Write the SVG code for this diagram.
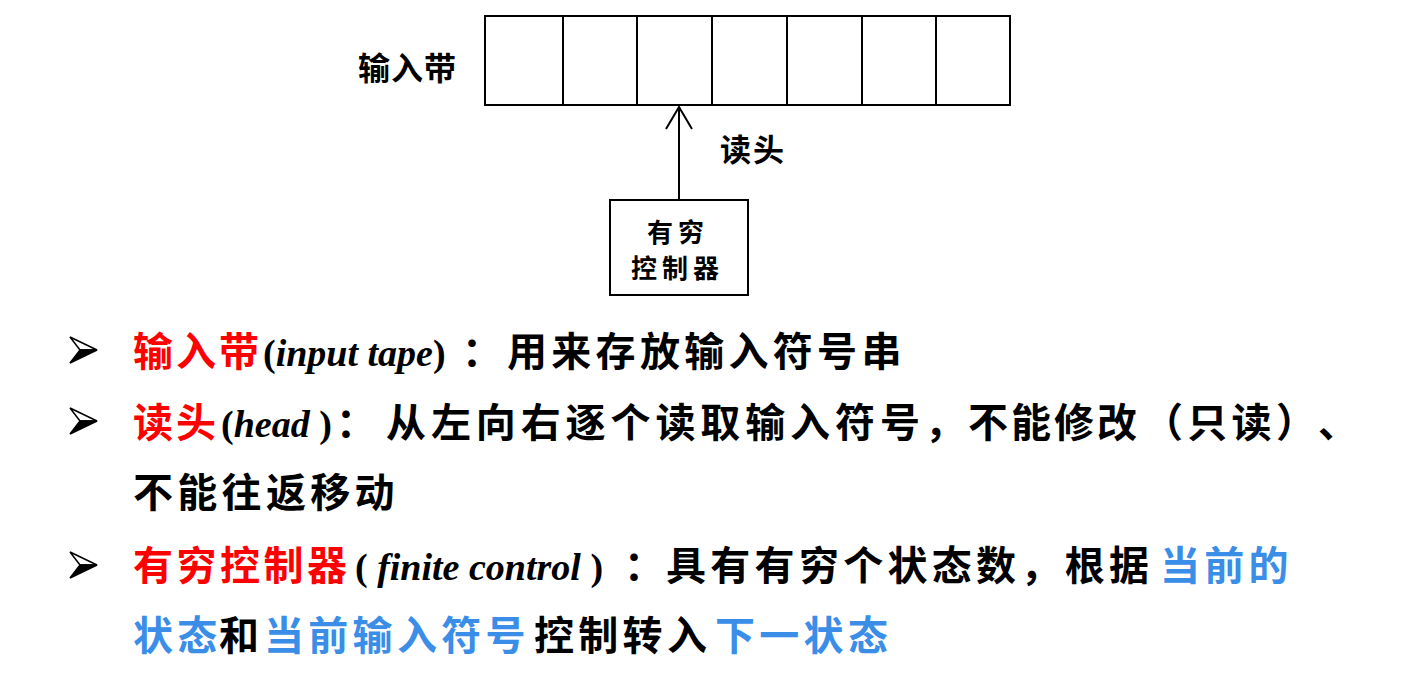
<svg xmlns="http://www.w3.org/2000/svg" width="1414" height="690" viewBox="0 0 1414 690">
<style>
.cjk{font-family:"Noto Sans CJK SC","Noto Sans",sans-serif;font-weight:700;fill:#000}
.big{font-size:40px;letter-spacing:4.3px}
.lat{font-family:"Liberation Serif",serif;font-weight:700;font-size:38px;letter-spacing:0}
.it{font-style:italic}
.red{fill:#ff0000}
.blue{fill:#3a8ee8}
.box{fill:#fff;stroke:#000;stroke-width:2}
.ln{stroke:#000;stroke-width:2;fill:none}
</style>
<defs>
<marker id="ah" viewBox="0 0 24 28" refX="23" refY="14" markerWidth="24" markerHeight="28" markerUnits="userSpaceOnUse" orient="auto">
<path d="M1,1 L23,14 L1,27" fill="none" stroke="#000" stroke-width="2"/>
</marker>
<g id="bul">
<path d="M0,-13 L27,0 L10,0 Z" fill="#fff" stroke="#000" stroke-width="1.5"/>
<path d="M0,13 L27,0 L10,0 Z" fill="#000" stroke="#000" stroke-width="1.5"/>
</g>
</defs>
<g id="tape">
<rect class="box" x="485" y="16" width="525" height="89"/>
<path class="ln" d="M563,16V105M637,16V105M712,16V105M787,16V105M862,16V105M936,16V105"/>
<text class="cjk" x="358" y="80" font-size="32" letter-spacing="1">输入带</text>
</g>
<g id="connectors">
<line class="ln" x1="679" y1="200" x2="679" y2="107" marker-end="url(#ah)"/>
<text class="cjk" x="720" y="161" font-size="31" letter-spacing="2">读头</text>
</g>
<g id="control">
<rect class="box" x="610" y="200" width="138" height="95"/>
<text class="cjk" x="647" y="242" font-size="26" letter-spacing="5">有穷</text>
<text class="cjk" x="631" y="278" font-size="26" letter-spacing="5">控制器</text>
</g>
<g id="bullets">
<use href="#bul" x="70" y="350"/>
<use href="#bul" x="70" y="421"/>
<use href="#bul" x="70" y="565"/>
</g>
<g id="text">
<text class="cjk big" y="366"><tspan class="red" x="133" letter-spacing="3">输入带</tspan><tspan class="lat" x="263">(</tspan><tspan class="lat it">input tape</tspan><tspan class="lat">)</tspan><tspan x="462">：</tspan><tspan x="507">用来存放输入符号串</tspan></text>
<text class="cjk big" y="437"><tspan class="red" x="133" letter-spacing="3">读头</tspan><tspan class="lat" x="221">(</tspan><tspan class="lat it">head </tspan><tspan class="lat">)</tspan><tspan x="336">：</tspan><tspan x="386" letter-spacing="4.9">从左向右逐个读取输入符号，</tspan><tspan x="968" letter-spacing="3">不能修改</tspan><tspan x="1143">（只读）</tspan><tspan x="1318">、</tspan></text>
<text class="cjk big" y="507"><tspan x="133">不能往返移动</tspan></text>
<text class="cjk big" y="580"><tspan class="red" x="133" letter-spacing="3.5">有穷控制器</tspan><tspan class="lat" x="355">( </tspan><tspan class="lat it">finite control </tspan><tspan class="lat">)</tspan><tspan x="624">：</tspan><tspan x="666">具有有穷个状态数，根据</tspan><tspan class="blue" x="1160">当前的</tspan></text>
<text class="cjk big" y="650"><tspan class="blue" x="133">状态</tspan><tspan x="219">和</tspan><tspan class="blue" x="264">当前输入符号</tspan><tspan x="534">控制转入</tspan><tspan class="blue" x="715">下一状态</tspan></text>
</g>
</svg>
